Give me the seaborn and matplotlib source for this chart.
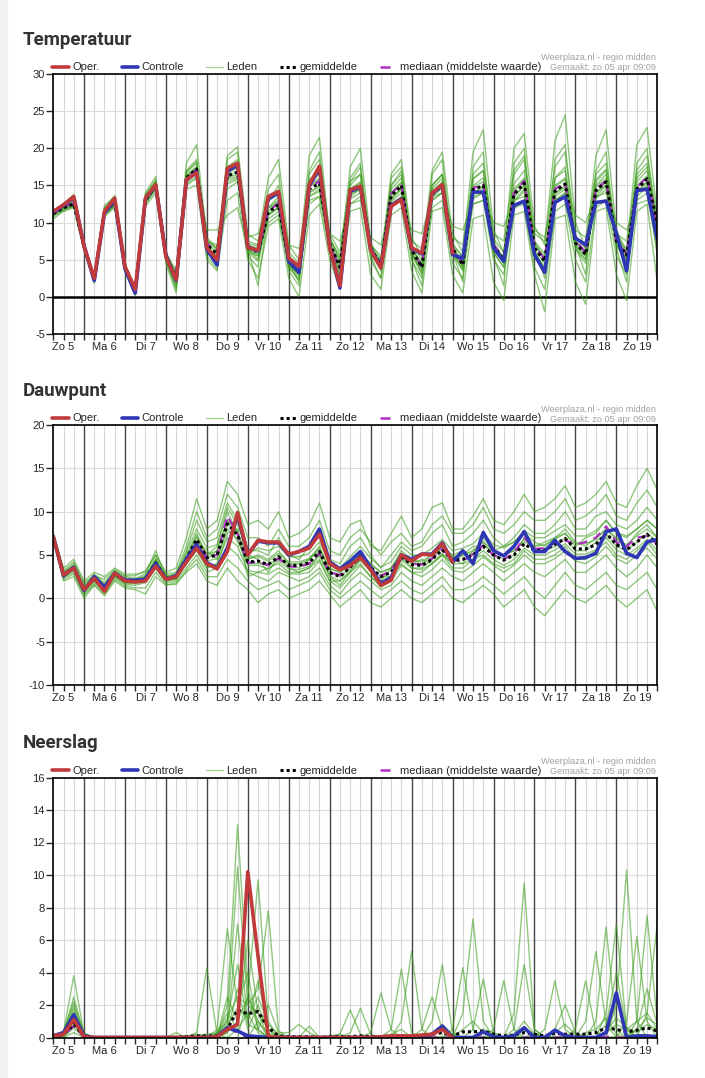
# %%
import numpy as np
import matplotlib
matplotlib.use('Agg')
import matplotlib.pyplot as plt
import seaborn as sns
from matplotlib.lines import Line2D
from matplotlib.patches import Rectangle

sns.set_style('white')
plt.rcParams['font.family'] = ['Liberation Sans', 'DejaVu Sans']

# %%
# tijdas: uren sinds zo 5 00:00, elke 6 uur
uren = np.arange(6, 361, 6)
dagen = ['Zo 5', 'Ma 6', 'Di 7', 'Wo 8', 'Do 9', 'Vr 10', 'Za 11', 'Zo 12',
         'Ma 13', 'Di 14', 'Wo 15', 'Do 16', 'Vr 17', 'Za 18', 'Zo 19']

# %%
# Temperatuur
temp_oper = [11.5, 12.4, 13.5, 6.8, 2.5, 11.5, 13.3, 4.1, 1.0, 13.3, 15.1, 5.4, 2.3, 15.8, 16.7, 6.6, 5.0, 17.3, 18.0, 6.6,
             6.3, 13.5, 14.2, 5.2, 4.1, 15.1, 17.6, 6.6, 1.5, 14.4, 14.9, 6.3, 3.9, 12.2, 13.1, 6.6, 5.9, 14.0, 15.1, 5.9]
temp_controle = [11.4, 12.3, 13.4, 6.9, 2.2, 11.3, 13.0, 3.8, 0.5, 13.2, 15.0, 5.6, 2.2, 15.7, 16.8, 6.4, 4.3, 17.0, 17.7, 6.7,
                 6.2, 13.2, 14.0, 4.8, 3.3, 14.9, 17.3, 6.8, 1.2, 14.2, 14.8, 6.4, 4.0, 12.3, 13.2, 6.5, 5.8, 13.9, 15.0, 5.7,
                 5.2, 14.1, 14.1, 6.6, 4.8, 12.3, 12.9, 5.7, 3.3, 12.7, 13.5, 7.9, 7.0, 12.7, 12.9, 8.6, 3.5, 14.3, 14.5, 7.7]
temp_gem = [11.2, 12.0, 12.5, 6.8, 2.3, 11.5, 12.7, 4.0, 0.9, 13.0, 15.0, 5.5, 2.5, 16.0, 17.2, 7.0, 5.8, 16.3, 16.8, 6.8,
            6.0, 11.4, 12.4, 4.8, 3.3, 14.5, 15.3, 7.2, 4.0, 14.2, 14.9, 6.5, 4.3, 13.6, 15.0, 6.3, 4.0, 13.8, 15.0, 6.5,
            4.3, 14.4, 15.0, 6.8, 5.0, 13.8, 15.3, 6.6, 4.8, 14.2, 15.2, 7.3, 5.7, 14.3, 15.5, 7.5, 5.6, 14.5, 15.9, 9.9]
temp_med = [11.2, 12.1, 12.6, 6.8, 2.3, 11.6, 12.9, 4.1, 0.9, 13.1, 15.0, 5.6, 2.4, 16.1, 17.1, 7.2, 6.0, 16.8, 17.5, 6.8,
            6.0, 11.5, 12.6, 4.6, 3.6, 14.6, 15.6, 7.0, 3.8, 14.3, 15.1, 6.6, 4.2, 13.9, 15.2, 6.4, 4.1, 14.0, 15.1, 6.6,
            4.5, 14.6, 15.2, 7.0, 5.2, 14.0, 15.6, 6.8, 5.1, 14.5, 15.3, 7.6, 6.0, 14.5, 15.6, 7.3, 5.9, 14.7, 16.1, 10.0]
temp_leden = [
    [11.0, 12.5, 13.8, 7.2, 2.8, 12.0, 13.6, 4.5, 1.2, 14.0, 16.2, 6.0, 3.0, 18.0, 20.5, 8.0, 6.5, 19.0, 20.2, 8.5,
     7.5, 16.0, 18.5, 7.0, 5.0, 19.0, 21.5, 8.0, 5.0, 17.5, 20.0, 7.5, 3.5, 16.5, 18.5, 8.0, 5.5, 17.0, 19.5, 8.5,
     6.0, 19.5, 22.5, 9.0, 6.0, 20.0, 22.0, 9.5, 7.0, 21.0, 24.5, 10.0, 6.5, 19.0, 22.5, 9.0, 6.0, 20.5, 22.8, 11.0],
    [10.5, 11.5, 12.0, 6.2, 1.8, 10.8, 12.0, 3.5, 0.2, 12.2, 14.0, 4.5, 0.5, 14.5, 15.0, 5.0, 3.5, 13.0, 14.0, 5.0,
     2.5, 9.5, 10.5, 2.5, 0.0, 11.0, 12.5, 5.0, 1.0, 11.5, 12.0, 3.0, 1.0, 11.0, 12.0, 3.5, 0.5, 11.5, 12.0, 3.0,
     0.5, 10.5, 11.0, 2.0, -0.5, 11.0, 11.5, 3.0, -2.0, 10.5, 11.0, 2.0, -1.0, 11.5, 12.0, 3.0, -0.5, 11.5, 12.5, 2.0],
    [11.5, 12.2, 12.8, 7.0, 2.5, 11.8, 13.0, 4.2, 1.0, 13.5, 15.5, 5.8, 2.8, 16.5, 17.5, 7.5, 7.0, 15.5, 16.0, 8.0,
     8.5, 12.0, 12.5, 7.0, 6.5, 13.0, 13.5, 8.5, 7.5, 12.5, 13.0, 8.0, 7.0, 12.0, 13.0, 9.0, 8.5, 13.5, 14.0, 9.5,
     9.0, 12.5, 13.0, 10.0, 9.5, 13.0, 13.5, 9.0, 8.0, 14.0, 15.0, 11.0, 10.0, 13.5, 14.0, 10.0, 9.0, 12.5, 13.0, 12.0],
    [11.3, 12.4, 13.0, 7.0, 2.0, 12.3, 13.5, 4.0, 0.8, 13.8, 15.8, 6.2, 2.0, 17.0, 18.5, 6.5, 4.5, 18.5, 19.5, 5.5,
     4.0, 13.0, 15.0, 3.5, 1.5, 16.5, 18.5, 6.0, 2.0, 16.0, 18.0, 5.5, 2.5, 15.0, 17.0, 5.0, 1.5, 16.5, 18.5, 6.0,
     2.0, 17.5, 19.5, 5.5, 1.5, 18.0, 20.0, 6.5, 2.5, 18.5, 20.5, 7.0, 3.0, 17.0, 19.5, 6.5, 2.0, 18.0, 20.0, 8.0],
    [11.0, 11.8, 12.3, 6.5, 2.4, 11.2, 12.4, 3.8, 0.6, 12.8, 14.8, 5.2, 1.5, 15.5, 16.8, 6.8, 5.5, 16.0, 17.0, 6.0,
     5.5, 11.0, 12.0, 5.5, 4.0, 14.0, 15.0, 7.5, 4.5, 14.5, 15.5, 6.0, 4.0, 14.0, 15.5, 6.5, 4.5, 14.0, 15.5, 7.0,
     5.5, 15.0, 16.0, 7.5, 5.0, 14.5, 16.0, 6.0, 4.0, 15.0, 16.0, 8.0, 6.5, 15.0, 16.5, 8.0, 6.0, 15.5, 17.0, 9.5],
    [10.8, 11.6, 12.2, 6.6, 2.1, 11.0, 12.3, 3.6, 0.3, 12.5, 14.5, 4.8, 1.0, 15.0, 16.0, 5.5, 3.8, 14.5, 15.5, 7.0,
     6.5, 10.0, 11.0, 4.0, 2.5, 12.5, 13.5, 6.0, 3.0, 12.5, 13.5, 5.0, 2.5, 12.5, 13.5, 5.0, 2.5, 12.0, 13.0, 4.5,
     2.5, 12.5, 13.0, 5.0, 3.0, 12.0, 12.5, 4.0, 1.0, 11.5, 12.5, 5.0, 2.0, 12.0, 13.0, 5.5, 3.0, 13.0, 14.0, 6.0],
    [11.6, 12.6, 13.2, 7.3, 2.6, 11.9, 13.2, 4.3, 1.3, 13.4, 15.3, 5.9, 3.5, 16.8, 18.0, 7.8, 6.2, 17.5, 18.5, 7.5,
     7.0, 14.5, 16.5, 6.0, 4.5, 17.0, 19.5, 8.5, 6.0, 15.5, 17.5, 7.0, 5.5, 16.0, 17.5, 7.5, 6.5, 15.0, 16.5, 8.0,
     7.0, 16.5, 18.0, 8.5, 7.5, 17.0, 19.0, 8.5, 7.5, 17.5, 19.5, 9.0, 8.0, 16.5, 18.0, 8.5, 7.5, 17.0, 19.0, 10.5],
    [11.2, 12.0, 12.6, 6.9, 2.2, 11.4, 12.8, 4.0, 0.5, 13.0, 15.0, 5.0, 1.2, 16.0, 17.0, 9.0, 9.0, 11.0, 12.0, 6.5,
     1.5, 11.5, 13.0, 4.5, 2.0, 15.0, 16.0, 6.5, 3.5, 13.5, 14.5, 6.5, 5.0, 13.0, 14.5, 6.0, 3.0, 14.5, 16.0, 7.0,
     4.0, 14.0, 15.0, 6.0, 4.0, 13.5, 15.0, 7.0, 5.5, 13.0, 14.0, 6.5, 4.5, 14.0, 15.5, 7.0, 5.0, 14.0, 15.5, 5.5],
    [11.4, 12.2, 13.1, 6.8, 2.4, 11.6, 12.9, 4.1, 0.9, 13.2, 15.2, 5.5, 2.6, 16.2, 17.5, 7.0, 5.0, 16.5, 17.5, 6.5,
     5.0, 12.0, 13.5, 4.5, 3.0, 15.5, 16.5, 7.0, 4.0, 15.0, 16.5, 6.8, 4.5, 14.5, 16.0, 6.0, 3.5, 15.0, 16.5, 6.5,
     4.0, 16.0, 17.0, 7.0, 4.5, 16.5, 18.5, 7.5, 5.0, 16.0, 17.5, 7.5, 5.5, 15.5, 17.0, 7.0, 5.0, 16.5, 18.0, 9.0],
    [11.1, 11.9, 12.4, 6.7, 2.3, 11.3, 12.6, 3.9, 1.1, 12.9, 14.9, 5.4, 2.2, 15.8, 16.5, 6.2, 4.8, 16.0, 16.5, 6.2,
     5.8, 11.2, 12.0, 4.2, 3.0, 13.5, 14.5, 7.8, 5.5, 14.0, 14.5, 6.2, 3.8, 13.5, 14.5, 6.8, 4.2, 13.0, 14.0, 6.0,
     3.5, 13.5, 14.0, 6.5, 5.5, 13.0, 14.5, 5.5, 3.5, 13.5, 14.5, 7.0, 5.0, 13.5, 15.0, 7.5, 5.5, 14.0, 15.0, 10.0],
    [11.3, 12.1, 12.7, 6.9, 2.4, 11.7, 12.8, 4.0, 0.8, 13.1, 15.1, 5.6, 2.4, 16.3, 17.3, 7.1, 6.0, 16.8, 17.4, 6.9,
     6.2, 12.0, 13.0, 5.0, 3.5, 14.8, 15.8, 7.0, 4.2, 14.5, 15.3, 6.6, 4.4, 14.0, 15.3, 6.5, 4.2, 14.2, 15.4, 6.7,
     4.6, 14.8, 15.5, 7.0, 5.3, 14.2, 15.8, 6.9, 5.0, 14.8, 15.8, 7.5, 6.0, 14.8, 16.0, 7.6, 5.8, 15.0, 16.3, 9.5],
    [11.1, 11.9, 12.3, 6.6, 2.2, 11.2, 12.5, 3.8, 0.7, 12.8, 14.7, 5.3, 2.0, 15.6, 16.8, 6.8, 5.5, 15.8, 16.2, 6.5,
     5.5, 11.0, 12.0, 4.5, 2.8, 14.0, 14.8, 7.0, 3.5, 13.8, 14.5, 6.2, 4.0, 13.2, 14.6, 6.0, 3.8, 13.5, 14.6, 6.2,
     4.0, 14.0, 14.6, 6.5, 4.5, 13.5, 15.0, 6.3, 4.5, 13.8, 14.8, 7.0, 5.5, 14.0, 15.0, 7.2, 5.3, 14.2, 15.5, 9.0],
    [11.4, 12.3, 13.0, 7.1, 2.6, 11.8, 13.1, 4.3, 1.2, 13.5, 15.6, 5.9, 3.2, 16.8, 18.2, 7.4, 6.5, 17.5, 18.0, 7.2,
     6.8, 12.8, 14.0, 5.5, 4.0, 15.8, 17.0, 7.8, 5.0, 15.5, 16.5, 7.2, 5.0, 15.0, 16.5, 7.0, 5.0, 15.0, 16.5, 7.2,
     5.2, 15.8, 17.0, 7.8, 6.0, 15.2, 17.0, 7.5, 5.8, 16.0, 17.0, 8.2, 6.8, 15.8, 17.2, 8.2, 6.5, 16.0, 17.5, 10.5],
    [11.0, 11.7, 12.2, 6.5, 2.1, 11.1, 12.2, 3.7, 0.4, 12.6, 14.4, 5.0, 1.8, 15.2, 16.2, 6.2, 4.6, 15.2, 15.8, 6.0,
     4.8, 10.5, 11.5, 4.0, 2.2, 13.5, 14.2, 6.5, 3.0, 13.2, 14.0, 5.8, 3.6, 12.8, 14.0, 5.6, 3.2, 13.0, 14.0, 5.8,
     3.6, 13.2, 14.0, 6.0, 4.0, 12.8, 14.2, 5.8, 3.8, 13.0, 14.0, 6.5, 5.0, 13.2, 14.5, 6.8, 4.8, 13.5, 14.8, 8.5],
]

# %%
# Dauwpunt
dauw_oper = [7.1, 2.7, 3.5, 1.0, 2.3, 0.8, 2.9, 2.0, 1.9, 2.0, 3.7, 2.2, 2.5, 4.2, 5.8, 4.0, 3.4, 5.4, 9.9, 5.0,
             6.7, 6.5, 6.5, 5.1, 5.4, 5.8, 7.4, 4.0, 3.3, 3.8, 4.7, 3.3, 1.5, 2.1, 5.0, 4.3, 5.1, 5.0, 6.3, 4.2]
dauw_controle = [7.1, 2.6, 3.6, 0.9, 2.5, 1.3, 2.9, 2.1, 2.1, 2.2, 4.0, 2.2, 2.6, 4.5, 6.2, 4.1, 3.5, 5.8, 9.6, 5.1,
                 6.6, 6.4, 6.4, 5.0, 5.4, 6.0, 8.0, 4.2, 3.4, 4.3, 5.4, 3.5, 1.7, 2.4, 5.0, 4.5, 5.1, 5.1, 6.4, 4.2,
                 5.5, 4.0, 7.6, 5.5, 4.9, 6.0, 7.7, 5.4, 5.4, 6.7, 5.4, 4.6, 4.7, 5.2, 7.7, 8.0, 5.2, 4.7, 6.5, 6.8]
dauw_gem = [7.1, 2.8, 3.5, 1.0, 2.3, 1.3, 2.8, 2.0, 2.0, 2.3, 4.1, 2.3, 2.5, 4.6, 6.8, 4.7, 5.0, 8.6, 7.3, 4.2,
            4.3, 3.9, 4.8, 3.8, 3.8, 4.1, 5.4, 3.0, 2.5, 3.6, 4.8, 3.6, 2.5, 3.0, 4.8, 3.9, 3.8, 4.5, 5.6, 4.4,
            4.5, 5.0, 6.0, 5.0, 4.4, 5.0, 6.3, 5.5, 5.6, 6.2, 6.9, 5.7, 5.7, 6.2, 7.5, 6.2, 5.6, 6.5, 7.4, 6.2]
dauw_med = [7.1, 2.8, 3.5, 1.0, 2.3, 1.3, 2.8, 2.0, 2.0, 2.3, 4.0, 2.3, 2.5, 4.4, 6.5, 4.8, 5.0, 9.5, 7.4, 4.1,
            4.2, 3.8, 4.6, 3.7, 3.6, 4.0, 5.2, 3.0, 2.7, 3.8, 4.9, 3.4, 2.6, 3.2, 4.9, 4.0, 3.9, 4.6, 5.7, 4.4,
            4.3, 5.1, 6.1, 5.0, 4.5, 5.2, 7.0, 5.7, 5.8, 6.4, 6.7, 6.2, 6.5, 7.0, 8.3, 6.5, 6.0, 7.0, 7.2, 6.3]
dauw_leden = [
    [7.5, 3.5, 4.5, 2.0, 3.0, 2.5, 3.5, 2.8, 2.8, 3.0, 5.0, 3.0, 3.5, 7.0, 11.5, 8.0, 9.0, 13.5, 12.0, 8.5,
     9.0, 8.0, 10.0, 7.0, 7.5, 8.5, 11.0, 7.0, 6.5, 8.5, 9.0, 6.0, 5.5, 7.5, 9.5, 7.0, 8.0, 10.5, 11.0, 8.0,
     8.0, 9.5, 11.5, 9.0, 8.5, 10.0, 12.0, 10.0, 10.5, 11.5, 13.0, 10.5, 11.0, 12.0, 13.5, 11.0, 10.5, 13.0, 15.0, 12.5],
    [6.8, 2.0, 2.5, 0.0, 1.5, 0.3, 2.0, 1.2, 1.0, 0.5, 2.5, 1.5, 1.8, 3.0, 4.0, 2.0, 1.5, 3.5, 2.0, 1.0,
     -0.5, 0.5, 1.0, 0.0, 0.5, 1.0, 2.0, 0.5, -1.0, 0.0, 1.0, -0.5, -1.0, 0.0, 1.0, 0.0, -0.5, 0.5, 1.5, 0.0,
     -0.5, 0.5, 1.5, 0.5, -1.0, 0.0, 1.0, -1.0, -2.0, -0.5, 1.0, 0.0, -0.5, 0.5, 1.5, 0.0, -1.0, 0.0, 1.0, -1.5],
    [7.3, 3.0, 4.0, 1.5, 2.8, 1.8, 3.2, 2.5, 2.3, 2.8, 5.5, 2.5, 2.8, 5.5, 9.0, 6.5, 7.0, 11.0, 9.0, 5.5,
     5.5, 5.0, 7.0, 5.0, 4.5, 6.0, 7.5, 4.5, 4.0, 6.0, 7.0, 5.0, 3.5, 5.0, 6.5, 5.5, 6.0, 7.5, 8.5, 6.0,
     6.5, 7.5, 9.0, 7.0, 6.0, 7.0, 8.5, 7.5, 7.5, 8.5, 10.0, 8.0, 8.0, 9.5, 10.0, 8.5, 8.0, 9.0, 10.5, 9.0],
    [6.9, 2.4, 3.0, 0.5, 1.8, 0.8, 2.4, 1.6, 1.5, 1.8, 3.5, 1.8, 2.0, 3.5, 5.0, 3.0, 3.5, 6.0, 5.0, 3.0,
     2.5, 2.0, 3.0, 2.5, 2.0, 2.5, 3.5, 1.5, 0.5, 2.0, 3.0, 2.0, 1.0, 1.5, 3.0, 2.0, 1.5, 2.5, 3.5, 2.5,
     2.0, 3.0, 4.0, 3.0, 2.0, 3.0, 4.0, 3.0, 2.5, 3.5, 4.5, 3.0, 3.0, 4.0, 5.0, 3.5, 2.5, 3.5, 5.0, 3.5],
    [7.0, 2.9, 3.6, 1.2, 2.4, 1.5, 3.0, 2.2, 2.0, 2.5, 4.5, 2.4, 2.4, 4.5, 7.0, 4.5, 5.5, 9.0, 6.5, 4.5,
     5.0, 4.5, 5.5, 4.0, 3.5, 4.5, 6.0, 3.0, 2.5, 3.5, 5.0, 4.0, 3.0, 3.5, 5.5, 4.5, 4.0, 5.0, 6.0, 5.0,
     5.5, 5.0, 7.0, 5.5, 5.0, 5.5, 6.5, 6.0, 6.5, 7.0, 8.0, 6.5, 6.0, 7.0, 8.0, 7.0, 6.0, 7.5, 8.5, 7.0],
    [7.2, 2.5, 3.3, 0.8, 2.1, 1.0, 2.6, 1.8, 1.8, 2.0, 3.8, 2.0, 2.3, 4.0, 6.0, 3.5, 4.0, 7.5, 8.0, 2.5,
     3.0, 3.5, 4.0, 3.0, 3.0, 3.5, 5.0, 2.5, 1.5, 3.0, 4.0, 2.5, 1.5, 2.5, 4.0, 3.0, 3.0, 4.0, 5.0, 3.5,
     3.5, 4.5, 5.0, 4.0, 3.5, 4.0, 5.5, 4.5, 4.5, 5.0, 6.0, 4.5, 4.5, 5.5, 6.5, 5.0, 4.5, 5.5, 6.5, 5.0],
    [7.4, 3.2, 4.2, 1.8, 2.6, 2.2, 3.3, 2.6, 2.6, 3.2, 5.0, 2.8, 3.0, 6.0, 10.0, 7.0, 8.0, 12.0, 10.5, 7.0,
     7.0, 6.0, 8.0, 6.0, 6.0, 7.0, 9.0, 5.5, 5.0, 7.0, 8.0, 6.5, 5.0, 6.5, 7.5, 6.0, 6.5, 8.5, 9.5, 7.5,
     7.5, 8.5, 10.5, 8.0, 7.5, 8.5, 10.0, 9.0, 9.0, 10.0, 11.5, 9.0, 9.5, 10.5, 12.0, 9.5, 9.0, 11.0, 12.5, 10.5],
    [6.7, 2.2, 2.8, 0.3, 1.6, 0.5, 2.2, 1.4, 1.2, 1.2, 3.0, 1.6, 1.6, 3.2, 4.5, 2.5, 2.5, 4.5, 3.5, 2.0,
     1.0, 1.5, 2.0, 1.0, 1.5, 2.0, 3.0, 1.0, 0.0, 1.0, 2.0, 1.0, 0.0, 1.0, 2.0, 1.0, 0.5, 1.5, 2.5, 1.0,
     1.0, 1.5, 2.5, 1.5, 0.5, 1.5, 2.5, 1.0, 0.0, 1.5, 3.0, 1.5, 1.0, 2.0, 3.0, 1.5, 1.0, 2.0, 3.0, 1.0],
    [7.1, 2.7, 3.4, 1.1, 2.2, 1.2, 2.7, 1.9, 2.1, 2.2, 4.2, 2.3, 2.7, 4.8, 7.5, 5.0, 6.0, 10.0, 7.5, 4.0,
     4.0, 4.0, 4.5, 4.0, 4.0, 4.5, 5.5, 3.5, 3.0, 4.0, 5.0, 3.0, 2.0, 3.5, 5.0, 3.5, 3.5, 4.5, 6.0, 4.5,
     4.0, 5.5, 6.5, 5.0, 4.5, 5.0, 7.0, 5.5, 5.5, 6.0, 7.0, 5.5, 5.5, 6.5, 7.5, 6.0, 5.5, 6.5, 7.5, 6.5],
    [7.0, 2.6, 3.7, 0.7, 2.5, 1.1, 2.9, 2.1, 1.9, 2.4, 4.4, 2.1, 2.2, 4.2, 6.5, 5.5, 4.5, 8.5, 9.0, 5.0,
     4.5, 3.0, 5.0, 3.5, 3.0, 3.5, 4.5, 2.0, 2.0, 3.0, 4.5, 3.5, 2.5, 2.5, 4.5, 4.0, 4.5, 4.0, 5.0, 4.0,
     5.0, 6.0, 6.0, 5.5, 6.0, 6.5, 7.5, 6.5, 6.0, 7.0, 7.5, 6.0, 7.0, 7.5, 9.0, 7.5, 7.0, 8.0, 9.0, 8.0],
    [7.1, 2.8, 3.6, 1.1, 2.4, 1.4, 2.9, 2.1, 2.1, 2.4, 4.3, 2.4, 2.6, 4.8, 7.2, 5.0, 5.5, 9.0, 7.8, 4.6,
     4.8, 4.3, 5.2, 4.2, 4.2, 4.6, 5.8, 3.4, 3.0, 4.0, 5.2, 4.0, 3.0, 3.5, 5.2, 4.3, 4.3, 5.0, 6.0, 4.8,
     5.0, 5.5, 6.5, 5.5, 5.0, 5.5, 6.8, 6.0, 6.2, 6.8, 7.5, 6.3, 6.3, 6.8, 8.0, 6.8, 6.2, 7.2, 8.0, 7.0],
    [7.0, 2.7, 3.4, 0.9, 2.2, 1.2, 2.7, 1.9, 1.9, 2.1, 3.9, 2.2, 2.4, 4.4, 6.3, 4.3, 4.6, 8.0, 6.8, 3.8,
     3.8, 3.4, 4.3, 3.4, 3.3, 3.7, 5.0, 2.6, 2.0, 3.2, 4.4, 3.2, 2.0, 2.6, 4.4, 3.5, 3.3, 4.0, 5.2, 4.0,
     4.0, 4.5, 5.5, 4.5, 3.8, 4.5, 5.8, 5.0, 5.0, 5.6, 6.3, 5.1, 5.1, 5.6, 7.0, 5.6, 5.0, 5.8, 6.8, 5.5],
    [7.2, 3.0, 3.8, 1.3, 2.6, 1.6, 3.1, 2.3, 2.2, 2.6, 4.6, 2.6, 2.8, 5.2, 8.0, 5.8, 6.2, 10.5, 8.5, 5.2,
     5.8, 5.5, 6.0, 4.8, 4.8, 5.2, 6.5, 4.0, 3.5, 4.8, 6.0, 4.6, 3.6, 4.2, 6.0, 5.0, 5.0, 5.8, 6.8, 5.5,
     5.8, 6.3, 7.5, 6.2, 5.8, 6.5, 7.8, 7.0, 7.0, 7.8, 8.5, 7.2, 7.2, 7.8, 9.0, 7.6, 7.2, 8.0, 9.0, 8.0],
    [6.9, 2.5, 3.2, 0.7, 2.0, 1.0, 2.5, 1.7, 1.7, 1.9, 3.5, 2.0, 2.2, 4.0, 5.5, 3.5, 4.0, 7.0, 6.0, 3.2,
     3.0, 2.8, 3.5, 2.8, 2.8, 3.0, 4.3, 2.0, 1.2, 2.5, 3.8, 2.5, 1.3, 2.0, 3.8, 3.0, 2.5, 3.3, 4.5, 3.2,
     3.0, 3.8, 4.8, 3.8, 3.0, 3.8, 5.0, 4.0, 4.0, 4.6, 5.5, 4.3, 4.0, 4.8, 6.0, 4.6, 4.0, 5.0, 5.8, 4.5],
]

# %%
# Neerslag
neer_oper = [0.1, 0.2, 1.1, 0.05, 0, 0, 0, 0, 0, 0, 0, 0, 0, 0, 0, 0, 0.05, 0.5, 0.8, 10.2,
             5.0, 0.05, 0, 0, 0, 0, 0, 0, 0, 0, 0, 0, 0.05, 0.1, 0.1, 0.1, 0.15, 0.2, 0.5, 0]
neer_controle = [0.1, 0.3, 1.4, 0.1, 0, 0, 0, 0, 0, 0, 0, 0, 0, 0, 0, 0, 0.05, 0.6, 0.4, 0.1,
                 0.05, 0, 0, 0, 0, 0, 0, 0, 0, 0, 0, 0, 0, 0, 0, 0, 0.05, 0.2, 0.7, 0,
                 0, 0, 0.35, 0.05, 0, 0.1, 0.6, 0, 0, 0.45, 0.1, 0, 0, 0, 0.3, 2.75, 0, 0.1, 0.1, 0.05]
neer_gem = [0.1, 0.2, 0.8, 0.1, 0, 0, 0, 0, 0, 0, 0, 0, 0, 0.05, 0.1, 0.1, 0.1, 0.5, 1.7, 1.45,
            1.6, 0.6, 0.1, 0.05, 0.05, 0.05, 0, 0.05, 0.05, 0.05, 0.1, 0.05, 0.05, 0.1, 0.1, 0.05, 0.1, 0.2, 0.3, 0.1,
            0.35, 0.35, 0.4, 0.2, 0.1, 0.15, 0.3, 0.2, 0.1, 0.25, 0.2, 0.2, 0.2, 0.3, 0.6, 0.5, 0.35, 0.45, 0.6, 0.4]
neer_med = [0.05, 0.15, 0.7, 0.05, 0, 0, 0, 0, 0, 0, 0, 0, 0, 0, 0, 0, 0.1, 0.6, 0.3, 0,
            0, 0, 0, 0, 0, 0, 0, 0, 0, 0, 0, 0, 0, 0, 0, 0, 0, 0, 0, 0,
            0, 0, 0, 0, 0, 0, 0, 0, 0, 0, 0, 0, 0, 0, 0.05, 0, 0, 0, 0, 0]
neer_leden = [
    [0, 0.3, 3.8, 0.2, 0, 0, 0, 0, 0, 0, 0, 0, 0, 0, 0, 0, 0, 2.0, 13.1, 3.0,
     0.5, 0, 0, 0, 0, 0, 0, 0, 0, 0, 0, 0, 0, 0, 0, 0, 0, 0, 0, 0,
     0, 0, 0, 0, 0, 1.5, 9.5, 0.5, 0, 0, 0, 0, 0, 0, 0, 0, 0, 0, 0, 0],
    [0, 0.2, 2.5, 0.1, 0, 0, 0, 0, 0, 0, 0, 0, 0, 0, 0.3, 4.3, 0.2, 0, 0, 2.5,
     9.7, 1.0, 0, 0, 0, 0, 0, 0, 0, 0, 0, 0, 0, 0, 1.0, 5.3, 0.5, 0, 0, 0,
     0, 0, 0, 0, 0, 0, 0, 0, 0, 0, 0, 0, 0, 0, 0, 2.0, 10.3, 1.0, 0, 0],
    [0.1, 0.2, 2.0, 0.1, 0, 0, 0, 0, 0, 0, 0, 0, 0, 0, 0, 0, 0.2, 1.0, 10.5, 2.0,
     3.0, 7.8, 0.4, 0, 0, 0.7, 0, 0, 0, 0, 0, 0, 0, 0, 0, 0, 0, 0, 0, 0,
     1.5, 7.3, 1.0, 0, 0, 0, 0, 0, 0, 0, 0, 0, 0, 0, 1.5, 7.0, 0.5, 0, 0, 0],
    [0, 0.1, 1.5, 0, 0, 0, 0, 0, 0, 0, 0, 0, 0, 0, 0, 0, 0.5, 6.7, 2.0, 4.0,
     0.5, 0, 0, 0, 0, 0, 0, 0, 0, 0, 0, 0.3, 2.75, 0.5, 0, 0, 0, 1.0, 4.5, 0.3,
     0, 0, 0, 0, 0, 0, 0, 0, 0, 0, 0, 0, 0, 1.0, 6.8, 0.5, 0, 0, 0, 0],
    [0.2, 0.3, 1.8, 0, 0, 0, 0, 0, 0, 0, 0, 0, 0.3, 0, 0, 0, 0, 0.5, 7.0, 1.0,
     3.5, 0.5, 0, 0, 0, 0, 0, 0, 0.2, 1.7, 0.2, 0, 0, 0, 0, 0, 0, 0, 0, 0.5,
     4.3, 0.5, 0, 0, 0, 0, 0, 0, 0, 0, 0, 0, 0, 0, 0, 0, 0, 1.0, 7.5, 1.0],
    [0, 0.1, 0.8, 0, 0, 0, 0, 0, 0, 0, 0, 0, 0, 0, 0, 0, 0.1, 2.5, 1.0, 6.0,
     1.5, 0, 0, 0, 0, 0, 0, 0, 0, 0, 0, 0, 0, 0.5, 4.2, 0.3, 0, 0, 0, 0,
     0, 0, 0, 0, 0, 0, 0, 0, 0.5, 3.5, 0.5, 0, 0, 0, 0, 0, 1.0, 6.2, 1.0, 0],
    [0, 0.1, 1.2, 0, 0, 0, 0, 0, 0, 0, 0, 0, 0, 0, 0, 0, 0, 0.3, 3.0, 0.5,
     2.0, 0.3, 0, 0, 0, 0, 0, 0, 0, 0, 0, 0, 0, 0, 0, 0, 0, 0, 0, 0,
     0, 0.5, 3.6, 0.3, 0, 0, 0, 0, 0, 0, 0, 0.5, 3.5, 0.3, 0, 0, 0, 0, 1.5, 7.0],
    [0, 0, 0.6, 0, 0, 0, 0, 0, 0, 0, 0, 0, 0, 0, 0, 0, 0, 0, 0.5, 1.5,
     0.3, 0, 0, 0, 0, 0, 0, 0, 0, 0.3, 1.8, 0.2, 0, 0, 0, 0, 0, 0, 0, 0,
     0, 0, 0, 0.5, 3.5, 0.5, 0, 0, 0, 0, 0, 0, 1.0, 5.3, 0.8, 0, 0, 0, 0, 0],
    [0, 0.1, 1.0, 0, 0, 0, 0, 0, 0, 0, 0, 0, 0, 0, 0, 0, 0.2, 1.0, 4.5, 0.8,
     0.5, 2.0, 0.3, 0.3, 0.8, 0.3, 0, 0, 0, 0, 0, 0, 0, 0, 0, 0, 0, 0, 0, 0,
     0, 0, 0, 0, 0, 0.5, 4.5, 0.5, 0, 0, 0, 0, 0, 0, 0.8, 4.0, 0.5, 0, 0, 0],
    [0, 0, 0.3, 0, 0, 0, 0, 0, 0, 0, 0, 0, 0, 0, 0, 0, 0.3, 1.5, 0.5, 0,
     1.0, 0, 0, 0, 0, 0, 0, 0, 0, 0, 0, 0, 0, 0, 0, 0, 0.5, 2.5, 0.5, 0,
     0, 0, 0, 0, 0, 0, 0, 0, 0, 0.5, 2.0, 0.3, 0, 0, 0, 0, 0, 0.5, 3.0, 0.8],
    [0.1, 0.4, 2.2, 0.3, 0, 0, 0, 0, 0, 0, 0, 0, 0, 0, 0.1, 0.2, 0.3, 1.2, 2.5, 2.0,
     1.5, 0.5, 0.1, 0, 0, 0, 0, 0, 0, 0, 0, 0, 0, 0, 0, 0, 0, 0.3, 0.8, 0.2,
     0, 0, 0.5, 0.3, 0, 0, 0, 0.3, 0, 0, 0, 0, 0, 0, 0.4, 1.2, 0.6, 0.3, 0.8, 0.5],
    [0, 0.2, 1.6, 0.2, 0, 0, 0, 0, 0, 0, 0, 0, 0, 0, 0, 0, 0.2, 0.8, 1.8, 1.2,
     2.5, 0.8, 0.2, 0, 0, 0, 0, 0, 0, 0, 0, 0, 0, 0.2, 0.5, 0, 0, 0, 0, 0,
     0.5, 1.0, 0.3, 0, 0, 0, 0.5, 0, 0, 0.3, 0.8, 0.2, 0, 0, 0.3, 0.8, 0.5, 1.0, 1.5, 0.5],
    [0.2, 0.3, 1.3, 0.1, 0, 0, 0, 0, 0, 0, 0, 0, 0, 0.1, 0.2, 0.1, 0, 0.3, 1.0, 2.5,
     1.0, 0.2, 0, 0, 0, 0, 0, 0.1, 0.2, 0, 0, 0, 0, 0, 0, 0, 0, 0.2, 0.5, 0,
     0, 0, 0, 0, 0, 0.2, 1.0, 0.2, 0, 0, 0, 0, 0.3, 0.5, 1.2, 0.2, 0, 0.5, 1.2, 0.8],
]

# %%
ROOD = '#c0393b'
BLAUW = '#2e36b4'
PAARS = '#b02ec4'
GROEN = '#3f9f1f'
W, H = 705, 1078


def paneel(top_px, titel, oper, controle, leden, gem, med, ylim, yticks, nullijn=False):
    ax = fig.add_axes([53.3 / W, 1 - (top_px + 260) / H, 604 / W, 260 / H])
    for lid in leden:
        sns.lineplot(x=uren, y=lid, ax=ax, color=GROEN, lw=1.0, alpha=0.58)
    sns.lineplot(x=uren, y=med, ax=ax, color=PAARS, lw=1.6, linestyle=(0, (4, 3)))
    sns.lineplot(x=uren, y=gem, ax=ax, color='black', lw=2.2, linestyle=(0, (1, 1)))
    sns.lineplot(x=uren, y=controle, ax=ax, color=BLAUW, lw=2.6)
    sns.lineplot(x=uren[:len(oper)], y=oper, ax=ax, color=ROOD, lw=2.6)

    ax.set_xlim(6, 360)
    ax.set_ylim(*ylim)
    ax.set_yticks(yticks)
    ax.set_yticklabels([str(t) for t in yticks])
    for t in yticks:
        ax.axhline(t, color='#dcdcdc', lw=0.8, zorder=0)
    for u in range(6, 361, 6):
        if u % 24 == 0:
            ax.axvline(u, color='#444444', lw=1.0, zorder=0.5)
        else:
            ax.axvline(u, color='#d6d6d6', lw=0.8, zorder=0)
    if nullijn:
        ax.axhline(0, color='black', lw=1.8, zorder=1)

    ax.set_xticks(np.arange(12, 360, 24))
    ax.set_xticklabels(dagen)
    ax.set_xticks(np.arange(6, 361, 6), minor=True)
    ax.tick_params(axis='x', which='both', direction='out', length=4, width=1, pad=2,
                   labelsize=8, bottom=True)
    ax.tick_params(axis='y', direction='out', length=5, width=1, pad=1, labelsize=8, left=True)
    ax.set_xlabel('')
    ax.set_ylabel('')
    for s in ax.spines.values():
        s.set_color('black')
        s.set_linewidth(1.2)

    handles = [Line2D([], [], color=ROOD, lw=2.6),
               Line2D([], [], color=BLAUW, lw=2.6),
               Line2D([], [], color='#9fd48f', lw=0.9),
               Line2D([], [], color='black', lw=2.2, linestyle=(0, (1, 1))),
               Line2D([], [], color=PAARS, lw=1.8, linestyle=(0, (4, 3)))]
    labels = ['Oper.', 'Controle', 'Leden', 'gemiddelde', 'mediaan (middelste waarde)']
    ax.legend(handles, labels, loc='lower left', bbox_to_anchor=(-0.002, 1.006), ncol=5,
              frameon=False, fontsize=8, handlelength=1.5, handletextpad=0.3,
              columnspacing=2.0, borderpad=0, borderaxespad=0)

    fig.text(23 / W, 1 - (top_px - 34) / H, titel, fontsize=13.5, fontweight='bold',
             color='#333333', family=['Roboto', 'DejaVu Sans'], va='center', ha='left')
    fig.text(656 / W, 1 - (top_px - 16) / H, 'Weerplaza.nl - regio midden', fontsize=6.6,
             color='#a0a0a0', ha='right', va='center')
    fig.text(656 / W, 1 - (top_px - 6) / H, 'Gemaakt: zo 05 apr 09:09', fontsize=6.6,
             color='#a0a0a0', ha='right', va='center')
    return ax


# %%
fig = plt.figure(figsize=(W / 100, H / 100), dpi=100)
fig.patches.append(Rectangle((0, 0), 7 / W, 1, transform=fig.transFigure,
                             color='#f2f2f2', zorder=0))

paneel(74, 'Temperatuur', temp_oper, temp_controle, temp_leden, temp_gem, temp_med,
       (-5, 30), list(range(-5, 31, 5)), nullijn=True)
paneel(425, 'Dauwpunt', dauw_oper, dauw_controle, dauw_leden, dauw_gem, dauw_med,
       (-10, 20), list(range(-10, 21, 5)))
paneel(777.5, 'Neerslag', neer_oper, neer_controle, neer_leden, neer_gem, neer_med,
       (0, 16), list(range(0, 17, 2)))

plt.savefig('out.png', dpi=100)
